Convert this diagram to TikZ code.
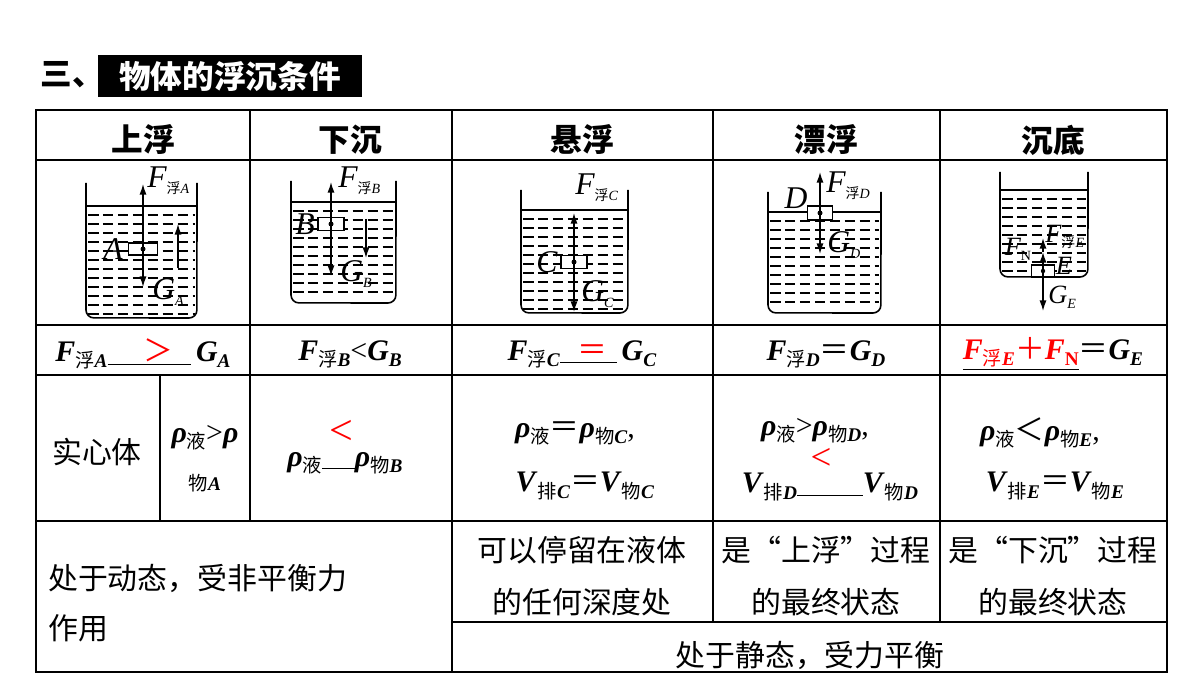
\documentclass[tikz,border=0pt]{standalone}
\usepackage{fontspec}
\setmainfont{Liberation Serif}
\newfontfamily\cjk{Noto Sans CJK SC}
\usetikzlibrary{arrows.meta}
\newcommand\fl[1]{\textbf{\textit{#1}}}
\newcommand\sbs[1]{\raisebox{-0.45ex}{\fontsize{11}{11}\selectfont #1}}
\newcommand\ssb[1]{\raisebox{-0.4ex}{\fontsize{8}{8}\selectfont #1}}
\newcommand\mybeaker[5]{%
  \draw[line width=0.9pt] (#1,#3) -- (#1,#5-8) arc[start angle=180,end angle=270,radius=4.5pt] -- (#2-8,#5) arc[start angle=270,end angle=360,radius=4.5pt] -- (#2,#3);
  \draw[line width=0.7pt] (#1,#4) -- (#2,#4);
  \pgfmathsetmacro\ysa{#4+9}
  \pgfmathsetmacro\ysb{#4+18}
  \pgfmathsetmacro\yse{#5-3}
  \foreach \yy in {\ysa,\ysb,...,\yse} \draw[dash pattern=on 6pt off 2.5pt,line width=0.7pt] (#1+2,\yy) -- (#2-2,\yy);
}
\tikzset{grid/.style={line width=0.8pt},
  frc/.style={-{Latex[length=6pt,width=4pt]},line width=0.8pt},
  obj/.style={draw,inner sep=0pt,line width=0.8pt,fill=white},
  big/.style={font=\cjk\fontsize{17}{20}\selectfont},
  hdr/.style={font=\cjk\bfseries\fontsize{18}{20}\selectfont},
  eq/.style={font=\fontsize{17}{20}\selectfont},
  lab/.style={font=\itshape\fontsize{15}{15}\selectfont,inner sep=0pt}}
\begin{document}
\begin{tikzpicture}[x=0.02cm,y=-0.02cm]
\useasboundingbox (0,0) rectangle (1200,675);
% title
\node[font=\cjk\bfseries\fontsize{18}{20}\selectfont] (t0) at (72,75) {三、};
\fill (98,55) rectangle (362,97);
\node[font=\cjk\bfseries\fontsize{18}{20}\selectfont,text=white] (t1) at (230,76) {物体的浮沉条件};
% grid
\draw[grid] (36,110) rectangle (1167,672);
\foreach \y in {160,325,375,521} \draw[grid] (36,\y) -- (1167,\y);
\draw[grid] (452,622) -- (1167,622);
\draw[grid] (250,110) -- (250,521);
\draw[grid] (452,110) -- (452,672);
\draw[grid] (713,110) -- (713,622);
\draw[grid] (940,110) -- (940,622);
\draw[grid] (160,375) -- (160,521);
% headers
\node[hdr] (h1) at (143,140) {上浮};
\node[hdr] (h2) at (350,140) {下沉};
\node[hdr] (h3) at (582,140) {悬浮};
\node[hdr] (h4) at (826,140) {漂浮};
\node[hdr] (h5) at (1053,140) {沉底};
% beaker A
\mybeaker{86}{197}{183}{206}{318}
\node[obj,minimum width=16.5pt,minimum height=7pt] (bA) at (143,249) {};
\fill (bA.center) circle (2.5);
\coordinate (aU) at (143,184); \coordinate (aD) at (143,287);
\draw[frc] (bA.center) -- (aU); \draw[frc] (bA.center) -- (aD);
\coordinate (a2s) at (178,268); \coordinate (a2e) at (178,224);
\draw[frc] (a2s) -- (a2e);
\node[lab] (lA) at (113,249) {\fontsize{18}{18}\selectfont A};
\node[lab,anchor=west] (fA) at (147,181) {\fontsize{18}{18}\selectfont F\ssb{\cjk 浮}\ssb{A}};
\node[lab,anchor=west] (gA) at (152,292) {\fontsize{18}{18}\selectfont G\ssb{A}};
% beaker B
\mybeaker{291}{396}{181}{202}{303}
\node[obj,minimum width=15pt,minimum height=7.5pt] (bB) at (331,224) {};
\fill (bB.center) circle (2.5);
\coordinate (bU) at (331,182); \coordinate (bD) at (331,276);
\draw[frc] (bB.center) -- (bU); \draw[frc] (bB.center) -- (bD);
\coordinate (b2s) at (366,219); \coordinate (b2e) at (366,258);
\draw[frc] (b2s) -- (b2e);
\node[lab] (lB) at (305,224) {\fontsize{18}{18}\selectfont B};
\node[lab,anchor=west] (fB) at (338,181) {\fontsize{18}{18}\selectfont F\ssb{\cjk 浮}\ssb{B}};
\node[lab,anchor=west] (gB) at (340,274) {\fontsize{18}{18}\selectfont G\ssb{B}};
% beaker C
\mybeaker{521}{628}{190}{210}{313}
\node[obj,minimum width=15pt,minimum height=7.5pt] (bC) at (574,262) {};
\fill (bC.center) circle (2.5);
\coordinate (cU) at (574,213); \coordinate (cD) at (574,312);
\draw[frc] (bC.center) -- (cU); \draw[frc] (bC.center) -- (cD);
\node[lab] (lC) at (547,262) {\fontsize{18}{18}\selectfont C};
\node[lab,anchor=west] (fC) at (575,188) {\fontsize{18}{18}\selectfont F\ssb{\cjk 浮}\ssb{C}};
\node[lab,anchor=west] (gC) at (581,294) {\fontsize{18}{18}\selectfont G\ssb{C}};
% beaker D
\mybeaker{768}{881}{192}{212}{313}
\node[obj,minimum width=14pt,minimum height=8pt] (bD) at (820,213) {};
\fill (bD.center) circle (2.5);
\coordinate (dU) at (820,172); \coordinate (dD) at (820,254);
\draw[frc] (bD.center) -- (dU); \draw[frc] (bD.center) -- (dD);
\node[lab] (lD) at (796,198) {\fontsize{18}{18}\selectfont D};
\node[lab,anchor=west] (fD) at (826,186) {\fontsize{18}{18}\selectfont F\ssb{\cjk 浮}\ssb{D}};
\node[lab,anchor=west] (gD) at (827,245) {\fontsize{18}{18}\selectfont G\ssb{D}};
% beaker E
\mybeaker{1000}{1088}{172}{190}{277}
\node[obj,minimum width=13pt,minimum height=7pt] (bE) at (1043,271) {};
\fill (bE.center) circle (2.2);
\coordinate (eU) at (1043,238); \coordinate (eM) at (1043,252); \coordinate (eD) at (1043,311);
\draw[frc] (bE.center) -- (eD);
\draw[frc] (bE.center) -- (eM);
\draw[frc] (eM) -- (eU);
\node[lab] (lFN) at (1018,249) {\fontsize{15}{15}\selectfont F\ssb{\upshape N}};
\node[lab,anchor=west] (fE) at (1045,237) {\fontsize{15}{15}\selectfont F\ssb{\cjk 浮}\ssb{E}};
\node[lab] (lE) at (1064,266) {\fontsize{15}{15}\selectfont E};
\node[lab,anchor=west] (gE) at (1048,297) {\fontsize{15}{15}\selectfont G\ssb{E}};
% row 2
\node[eq] (r2a) at (143,354) {\fl{F}\sbs{\cjk 浮}\sbs{\fl{A}}\underline{\hspace{1.2em}\textcolor{red}{\cjk ＞}\hspace{0.6em}}\,\fl{G}\sbs{\fl{A}}};
\node[eq] (r2b) at (350,354) {\fl{F}\sbs{\cjk 浮}\sbs{\fl{B}}<\fl{G}\sbs{\fl{B}}};
\node[eq] (r2c) at (582,354) {\fl{F}\sbs{\cjk 浮}\sbs{\fl{C}}\underline{\hspace{0.6em}\textcolor{red}{\cjk ＝}\hspace{0.3em}}\,\fl{G}\sbs{\fl{C}}};
\node[eq] (r2d) at (826,354) {\fl{F}\sbs{\cjk 浮}\sbs{\fl{D}}{\cjk ＝}\fl{G}\sbs{\fl{D}}};
\node[eq] (r2e) at (1053,354) {\underline{\textcolor{red}{\fl{F}\sbs{\cjk 浮}\sbs{\fl{E}}{\cjk ＋}\fl{F}\sbs{\textbf{N}}}}{\cjk ＝}\fl{G}\sbs{\fl{E}}};
% row 3
\node[big] (r3a) at (97,452) {实心体};
\node[eq] (r3b1) at (205,438) {\fl{ρ}\sbs{\cjk 液}>\fl{ρ}};
\node[eq] (r3b2) at (205,483) {\sbs{\cjk 物}\sbs{\fl{A}}};
\node[eq,text=red,font=\fontsize{24}{24}\selectfont] (r3c1) at (341,432) {<};
\node[eq] (r3c2) at (345,463) {\fl{ρ}\sbs{\cjk 液}\underline{\hspace{1.1em}}\fl{ρ}\sbs{\cjk 物}\sbs{\fl{B}}};
\node[eq] (r3d1) at (575,433) {\fl{ρ}\sbs{\cjk 液}{\cjk ＝}\fl{ρ}\sbs{\cjk 物}\sbs{\fl{C}},};
\node[eq] (r3d2) at (585,486) {\fl{V}\sbs{\cjk 排}\sbs{\fl{C}}{\cjk ＝}\fl{V}\sbs{\cjk 物}\sbs{\fl{C}}};
\node[eq] (r3e1) at (815,431) {\fl{ρ}\sbs{\cjk 液}>\fl{ρ}\sbs{\cjk 物}\sbs{\fl{D}},};
\node[eq,text=red,font=\fontsize{21}{21}\selectfont,inner sep=0pt] (r3e2) at (821,459) {<};
\node[eq] (r3e3) at (830,487) {\fl{V}\sbs{\cjk 排}\sbs{\fl{D}}\underline{\hspace{2.2em}}\fl{V}\sbs{\cjk 物}\sbs{\fl{D}}};
\node[eq] (r3f1) at (1040,433) {\fl{ρ}\sbs{\cjk 液}{\cjk ＜}\fl{ρ}\sbs{\cjk 物}\sbs{\fl{E}},};
\node[eq] (r3f2) at (1055,486) {\fl{V}\sbs{\cjk 排}\sbs{\fl{E}}{\cjk ＝}\fl{V}\sbs{\cjk 物}\sbs{\fl{E}}};
% row 4
\node[big,anchor=west] (r4a) at (42,578) {处于动态，受非平衡力};
\node[big,anchor=west] (r4b) at (42,628) {作用};
\node[big] (r4c1) at (582,550) {可以停留在液体};
\node[big] (r4c2) at (582,602) {的任何深度处};
\node[big] (r4d1) at (826,550) {是“上浮”过程};
\node[big] (r4d2) at (826,602) {的最终状态};
\node[big] (r4e1) at (1053,550) {是“下沉”过程};
\node[big] (r4e2) at (1053,602) {的最终状态};
\node[big] (r5) at (810,655) {处于静态，受力平衡};
\end{tikzpicture}
\end{document}
